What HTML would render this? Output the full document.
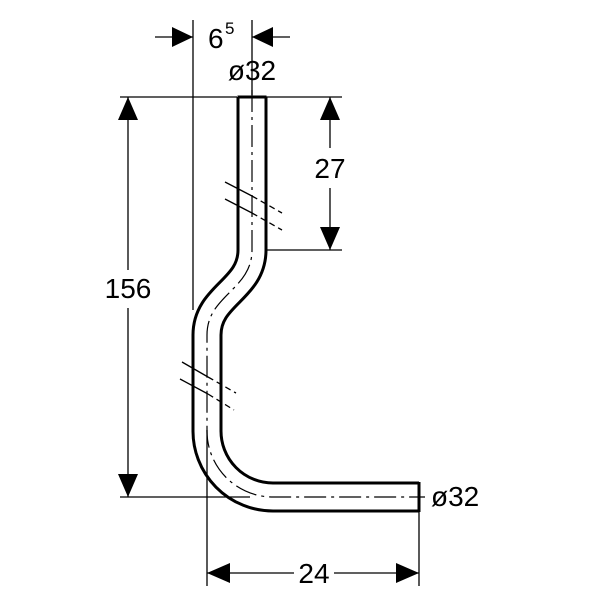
<!DOCTYPE html>
<html><head><style>body{margin:0;background:#fff}svg{display:block}text{font-family:"Liberation Sans",sans-serif;font-size:28px;fill:#000}</style></head><body>
<svg width="600" height="600" viewBox="0 0 600 600" xmlns="http://www.w3.org/2000/svg">
<g fill="none">
<path d="M252,97 V250 C252,290 207,295 207,335 V430 A66,66 0 0 0 273,497 H419" stroke="#000" stroke-width="31"/>
<path d="M252,95 V250 C252,290 207,295 207,335 V430 A66,66 0 0 0 273,497 H421" stroke="#fff" stroke-width="25"/>
<path d="M252,90 V250 C252,290 207,295 207,335 V430 A66,66 0 0 0 273,497 H425" stroke="#000" stroke-width="1.2" stroke-dasharray="22,5,3,5"/>
<path d="M237.5,97 H266.5 M419,482 V512" stroke="#000" stroke-width="3"/>
<g stroke="#000" stroke-width="1.3">
<path d="M225,182 L252,196 M225,199 L252,213 M182,362 L208,377 M180,379 L208,394"/>
<path d="M252,196 L282,213 M252,213 L282,230 M208,377 L236,393 M208,394 L234,410" stroke-dasharray="6,4"/>
<path d="M193,20 V310 M252,20 V95 M155,37 H193 M252,37 H290 M120,97 H237 M266,97 H342 M128,97 V270 M128,308 V497 M120,497 H250 M330,97 V148 M330,188 V250 M266,250 H342 M207,430 V586 M419,512 V586 M207,573 H294 M334,573 H419"/>
</g>
</g>
<g fill="#000">
<path d="M193,37 L172,27 L172,47Z M252,37 L273,27 L273,47Z"/>
<path d="M128,97 L118,120 L138,120Z M128,497 L118,474 L138,474Z"/>
<path d="M330,97 L320,120 L340,120Z M330,250 L320,227 L340,227Z"/>
<path d="M207,573 L230,563 L230,583Z M419,573 L396,563 L396,583Z"/>
</g>
<text x="208" y="48">6</text><text x="225" y="34" style="font-size:17px">5</text>
<text x="252" y="80" text-anchor="middle">ø32</text>
<text x="128" y="298" text-anchor="middle">156</text>
<text x="330" y="178" text-anchor="middle">27</text>
<text x="431" y="506">ø32</text>
<text x="314" y="583" text-anchor="middle">24</text>
</svg>
</body></html>
